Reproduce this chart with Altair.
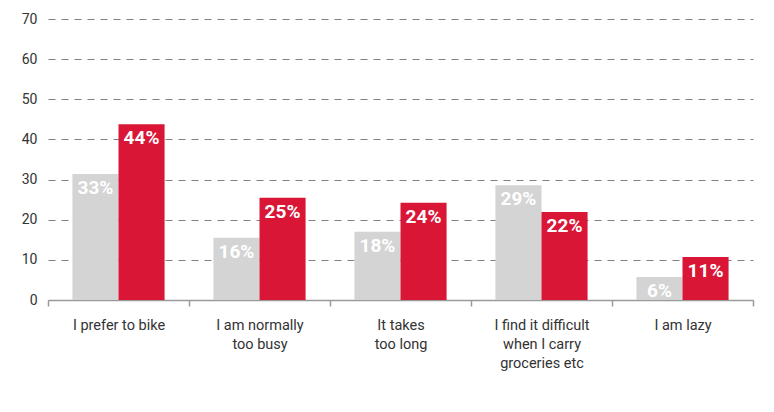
import altair as alt
import pandas as pd

categories = ["I prefer to bike", "I am normally|too busy", "It takes|too long",
              "I find it difficult|when I carry|groceries etc", "I am lazy"]
series = ["before", "after"]
gray_values = [31.4, 15.5, 17.0, 28.6, 5.7]
red_values = [43.8, 25.5, 24.2, 21.9, 10.7]
gray_labels = ["33%", "16%", "18%", "29%", "6%"]
red_labels = ["44%", "25%", "24%", "22%", "11%"]
y_ticks = [0, 10, 20, 30, 40, 50, 60, 70]

rows = []
for i, c in enumerate(categories):
    rows.append({"cat": c, "series": series[0], "value": gray_values[i], "label": gray_labels[i]})
    rows.append({"cat": c, "series": series[1], "value": red_values[i], "label": red_labels[i]})
df = pd.DataFrame(rows)

FONT = "Roboto"

x = alt.X("cat:N", sort=categories,
          scale=alt.Scale(paddingInner=0, paddingOuter=0),
          axis=alt.Axis(title=None, labelAngle=0, labelExpr="split(datum.label, '|')",
                        tickBand="extent", domainColor="#9a9a9a", domainWidth=1.5,
                        tickColor="#9a9a9a", tickWidth=1.5, tickSize=6,
                        labelFontSize=14.5, labelColor="#333333", labelFont=FONT,
                        labelLineHeight=19, labelPadding=12, grid=False))
xo = alt.XOffset("series:N", sort=series,
                 scale=alt.Scale(paddingOuter=0.53, paddingInner=0))
y = alt.Y("value:Q", scale=alt.Scale(domain=[0, 70], nice=False),
          axis=alt.Axis(title=None, values=y_ticks, ticks=False, domain=False,
                        labelFontSize=14, labelColor="#333333", labelFont=FONT,
                        labelPadding=11, gridColor="#808080", gridDash=[7, 6],
                        gridWidth=1.2))
color = alt.Color("series:N", sort=series,
                  scale=alt.Scale(domain=series, range=["#d4d4d4", "#d91636"]),
                  legend=None)

base = alt.Chart(df)
bars = base.mark_bar().encode(x=x, xOffset=xo, y=y, color=color)
text = base.mark_text(baseline="top", dy=5, color="white", fontWeight="bold",
                      fontSize=19, font=FONT).encode(
    x=x, xOffset=xo, y=y, text="label:N")

chart = (bars + text).properties(
    width=705, height=281,
    autosize=alt.AutoSizeParams(type="none"),
    padding={"left": 48, "top": 19, "right": 21, "bottom": 112},
).configure_view(stroke=None)

chart.save("out.html", embed_options={"renderer": "svg", "actions": False})
